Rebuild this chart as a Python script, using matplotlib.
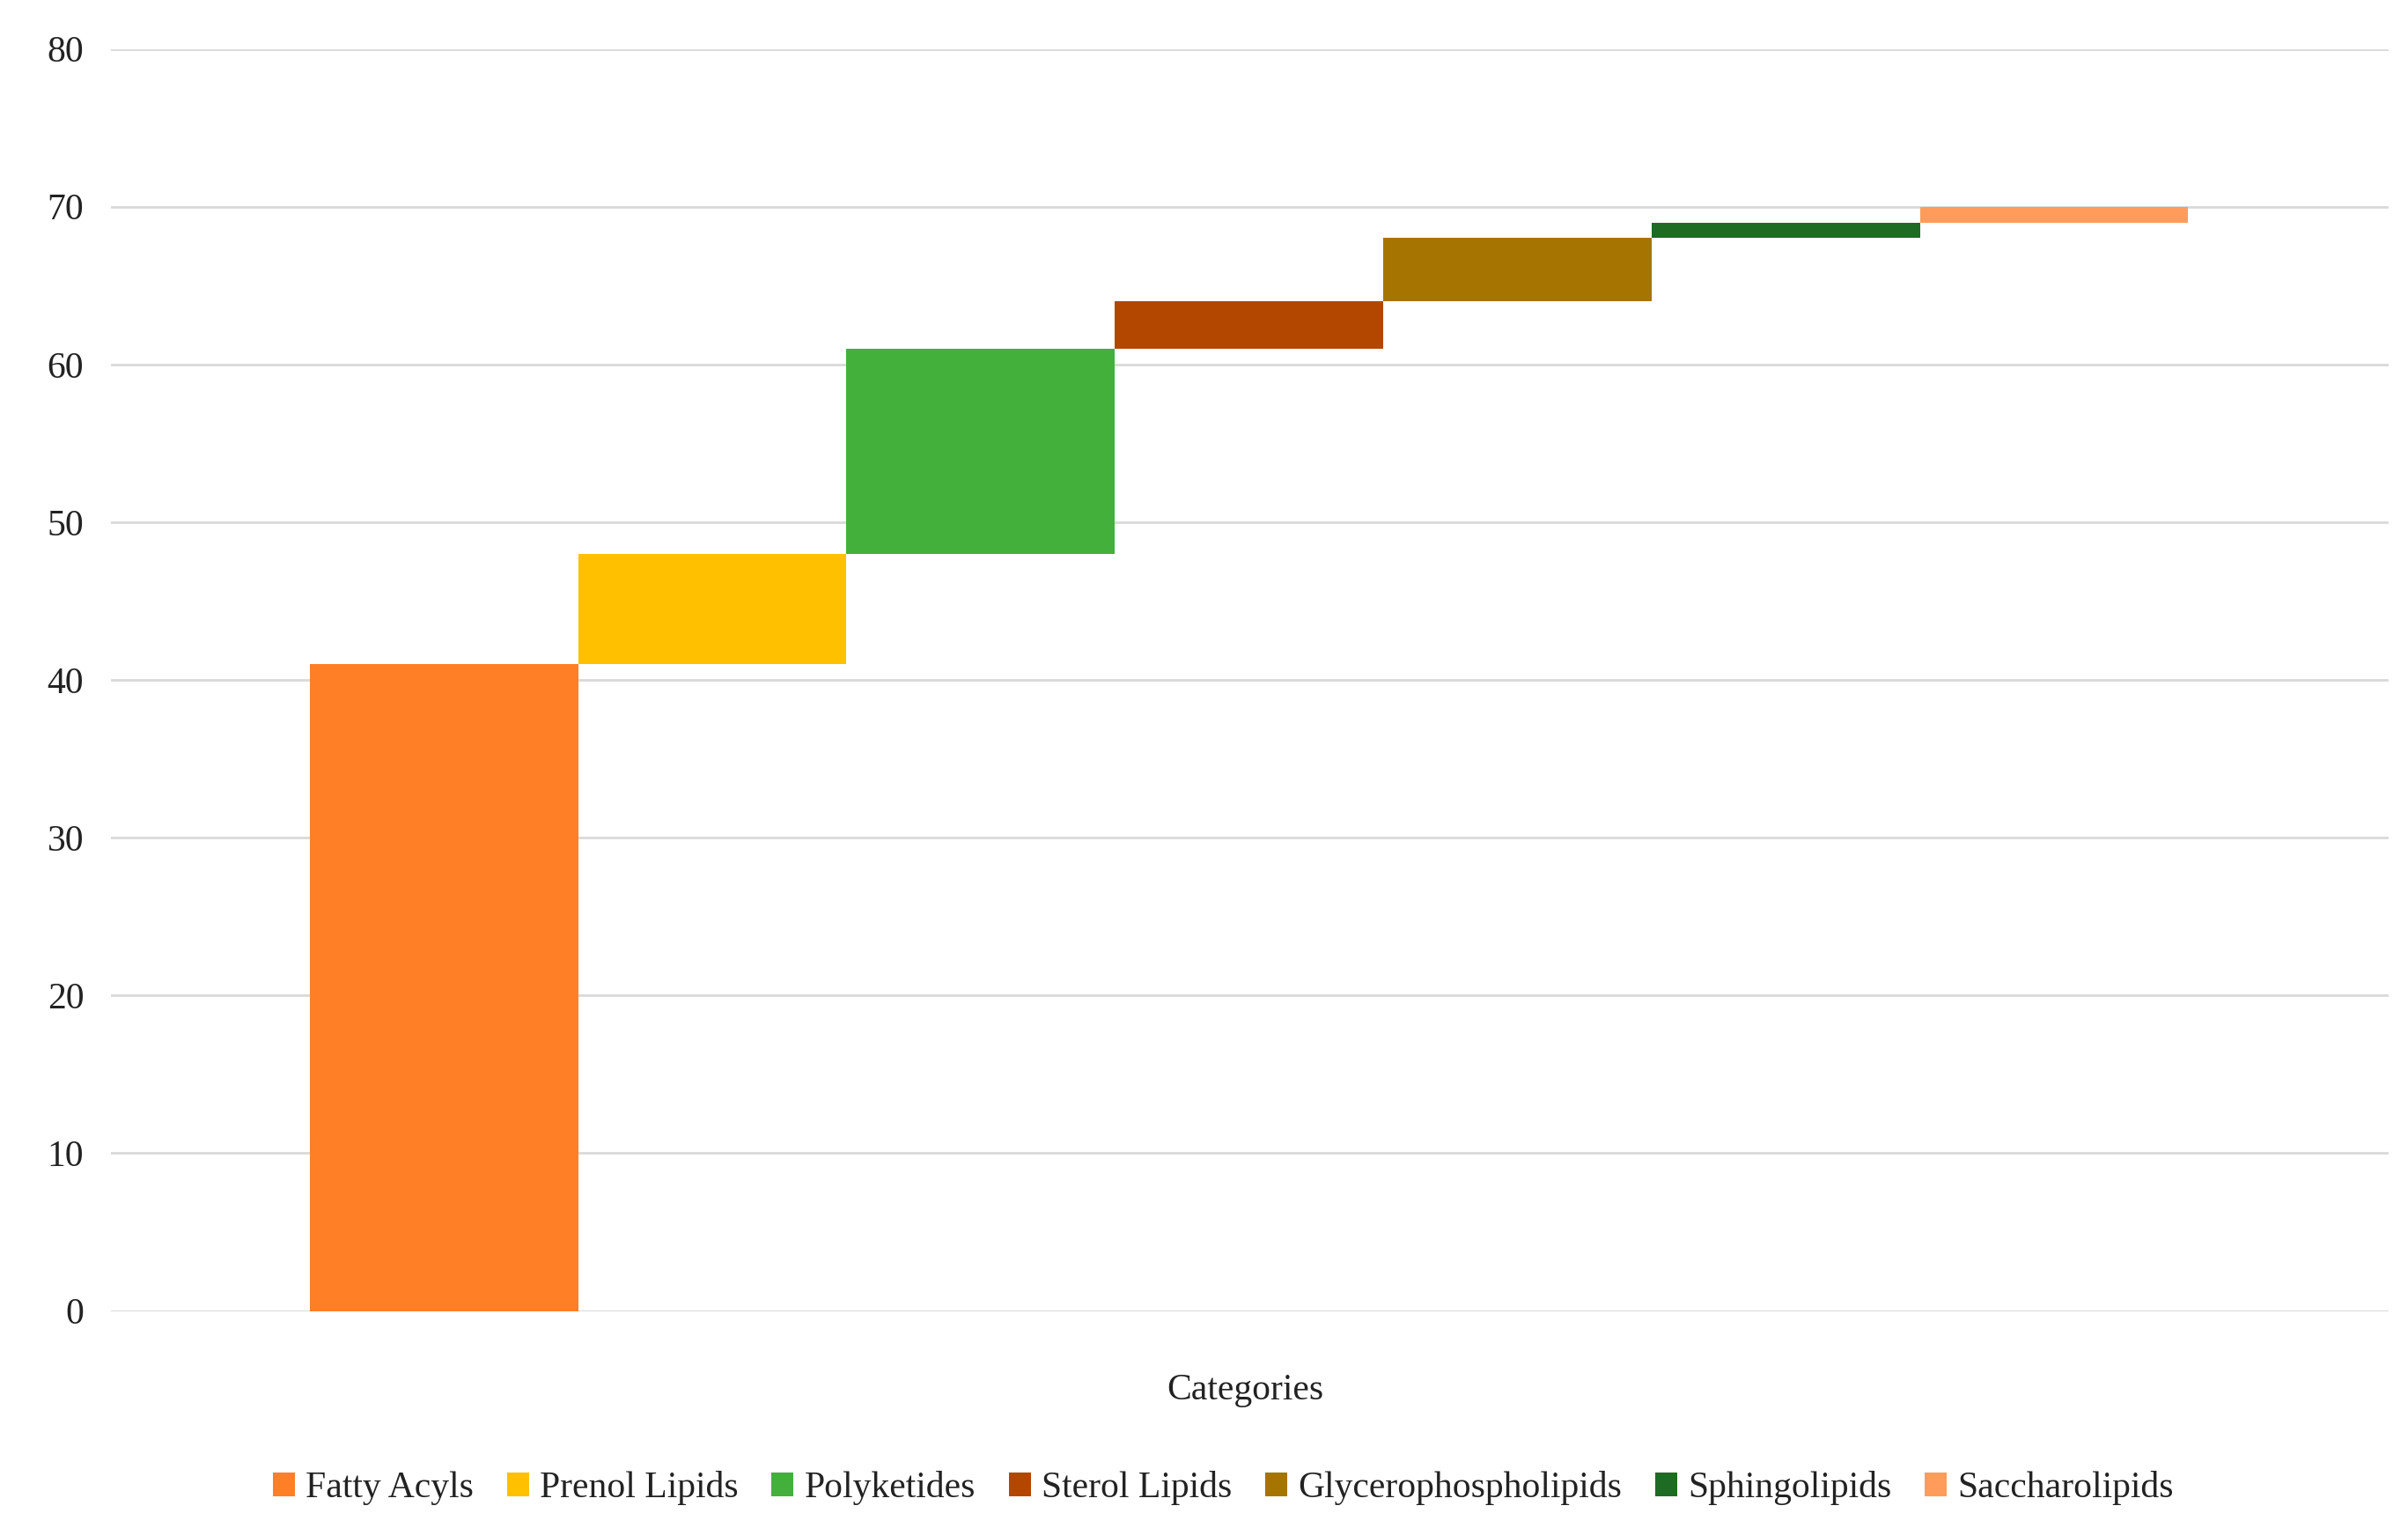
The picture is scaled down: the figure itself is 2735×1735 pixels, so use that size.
import matplotlib.pyplot as plt

categories = ["Fatty Acyls", "Prenol Lipids", "Polyketides", "Sterol Lipids",
              "Glycerophospholipids", "Sphingolipids", "Saccharolipids"]
values = [41, 7, 13, 3, 4, 1, 1]
colors = ["#FF7F27", "#FFC000", "#43B03C", "#B34700", "#A67400", "#1E6B23", "#FF9C5C"]

plt.rcParams["font.family"] = ["Liberation Serif", "DejaVu Serif"]

fig = plt.figure(figsize=(27.35, 17.35), dpi=100)
ax = fig.add_axes([0.046, 0.142, 0.946, 0.826])

bottom = 0
for i, (name, v, c) in enumerate(zip(categories, values, colors)):
    ax.bar(i, v, bottom=bottom, width=1.0, color=c, label=name, zorder=3)
    bottom += v

ax.set_xlim(-1.241, 7.247)
ax.set_ylim(0, 80)
ax.set_yticks(range(0, 81, 10))
ax.set_xticks([])
ax.grid(axis="y", color="#D9D9D9", linewidth=2, zorder=0)
for s in ax.spines.values():
    s.set_visible(False)
ax.tick_params(axis="y", length=0, labelsize=30, pad=22, colors="#222222")
ax.axhline(0, color="#D9D9D9", linewidth=2, zorder=1)

fig.text(0.517, 0.09, "Categories", ha="center", va="center", fontsize=30, color="#222222")
fig.legend(loc="center", bbox_to_anchor=(0.508, 0.026), ncol=7, frameon=False,
           fontsize=30, handlelength=0.6, handleheight=0.6, handletextpad=0.3,
           columnspacing=0.9, labelcolor="#222222")

fig.savefig("out.png", dpi=100)
